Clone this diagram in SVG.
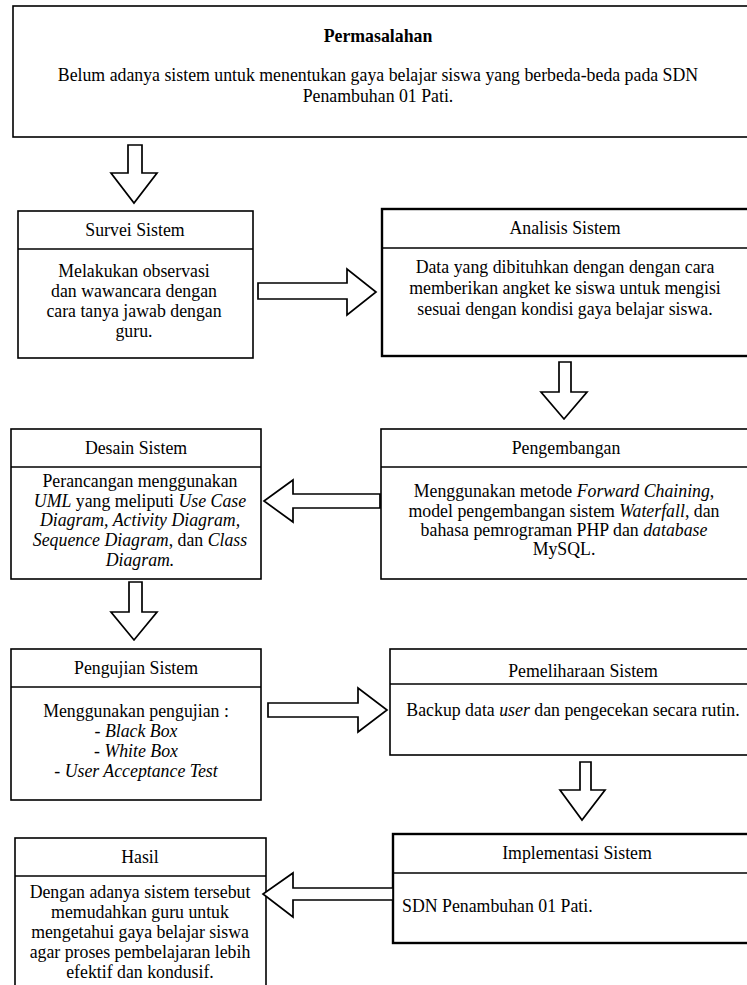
<svg xmlns="http://www.w3.org/2000/svg" width="747" height="985" viewBox="0 0 747 985">
<style>
.box{fill:#fff;stroke:#000;stroke-width:1.6}
.thick{stroke-width:2.4}
.div{stroke:#000;stroke-width:1.6;fill:none}
.arrow{fill:#fff;stroke:#000;stroke-width:1.7;stroke-linejoin:miter}
text{font-family:'Liberation Serif', 'DejaVu Serif', serif;font-size:17.8px;fill:#000}
.c{text-anchor:middle}
.b{font-weight:bold}
.i{font-style:italic}
</style>
<rect width="747" height="985" fill="#fff"/>
<g font-family="Liberation Serif, DejaVu Serif, serif">
<g id="permasalahan">
<rect class="box" x="13" y="6" width="740" height="131"/>
<text class="c b" x="378" y="42">Permasalahan</text>
<text class="c" x="378" y="81">Belum adanya sistem untuk menentukan gaya belajar siswa yang berbeda-beda pada SDN</text>
<text class="c" x="378" y="102">Penambuhan 01 Pati.</text>
</g>
<g id="survei">
<rect class="box" x="18" y="211" width="235" height="147"/>
<line class="div" x1="18" y1="249" x2="253" y2="249"/>
<text class="c" x="135" y="236">Survei Sistem</text>
<text class="c" x="134" y="277">Melakukan observasi</text>
<text class="c" x="134" y="297">dan wawancara dengan</text>
<text class="c" x="134" y="317">cara tanya jawab dengan</text>
<text class="c" x="134" y="337">guru.</text>
</g>
<g id="analisis">
<rect class="box thick" x="382" y="209" width="370" height="147"/>
<line class="div" x1="382" y1="248" x2="752" y2="248"/>
<text class="c" x="565" y="234">Analisis Sistem</text>
<text class="c" x="565" y="273">Data yang dibituhkan dengan dengan cara</text>
<text class="c" x="565" y="294">memberikan angket ke siswa untuk mengisi</text>
<text class="c" x="565" y="315">sesuai dengan kondisi gaya belajar siswa.</text>
</g>
<g id="desain">
<rect class="box" x="11" y="429" width="250" height="150"/>
<line class="div" x1="11" y1="467" x2="261" y2="467"/>
<text class="c" x="136" y="454">Desain Sistem</text>
<text class="c" x="140" y="487">Perancangan menggunakan</text>
<text class="c" x="140" y="507"><tspan class="i">UML</tspan> yang meliputi <tspan class="i">Use Case</tspan></text>
<text class="c i" x="140" y="526">Diagram, Activity Diagram,</text>
<text class="c" x="140" y="546"><tspan class="i">Sequence Diagram</tspan>, dan <tspan class="i">Class</tspan></text>
<text class="c i" x="140" y="566">Diagram.</text>
</g>
<g id="pengembangan">
<rect class="box" x="381" y="429" width="371" height="150"/>
<line class="div" x1="381" y1="467" x2="752" y2="467"/>
<text class="c" x="566" y="454">Pengembangan</text>
<text class="c" x="564" y="497">Menggunakan metode <tspan class="i">Forward Chaining</tspan>,</text>
<text class="c" x="564" y="517">model pengembangan sistem <tspan class="i">Waterfall</tspan>, dan</text>
<text class="c" x="564" y="536">bahasa pemrograman PHP dan <tspan class="i">database</tspan></text>
<text class="c" x="564" y="555">MySQL.</text>
</g>
<g id="pengujian">
<rect class="box" x="11" y="649" width="250" height="151"/>
<line class="div" x1="11" y1="687" x2="261" y2="687"/>
<text class="c" x="136" y="674">Pengujian Sistem</text>
<text class="c" x="136" y="717">Menggunakan pengujian :</text>
<text class="c" x="136" y="737">- <tspan class="i">Black Box</tspan></text>
<text class="c" x="136" y="757">- <tspan class="i">White Box</tspan></text>
<text class="c" x="136" y="777">- <tspan class="i">User Acceptance Test</tspan></text>
</g>
<g id="pemeliharaan">
<rect class="box" x="390" y="649" width="362" height="106"/>
<line class="div" x1="390" y1="684" x2="752" y2="684"/>
<text class="c" x="583" y="677">Pemeliharaan Sistem</text>
<text class="c" x="573" y="716">Backup data <tspan class="i">user</tspan> dan pengecekan secara rutin.</text>
</g>
<g id="implementasi">
<rect class="box thick" x="393" y="834" width="359" height="109"/>
<line class="div" x1="393" y1="873" x2="752" y2="873"/>
<text class="c" x="577" y="859">Implementasi Sistem</text>
<text x="402" y="912">SDN Penambuhan 01 Pati.</text>
</g>
<g id="hasil">
<rect class="box" x="15" y="838" width="251" height="160"/>
<line class="div" x1="15" y1="876" x2="266" y2="876"/>
<text class="c" x="140" y="863">Hasil</text>
<text class="c" x="140" y="898">Dengan adanya sistem tersebut</text>
<text class="c" x="140" y="918">memudahkan guru untuk</text>
<text class="c" x="140" y="938">mengetahui gaya belajar siswa</text>
<text class="c" x="140" y="958">agar proses pembelajaran lebih</text>
<text class="c" x="140" y="978">efektif dan kondusif.</text>
</g>
</g>
<g id="connectors">
<polygon class="arrow" points="128,145 142,145 142,173 157,173 134,203 111,173 128,173"/>
<polygon class="arrow" points="258,283 347,283 347,269 376,292 347,315 347,299 258,299"/>
<polygon class="arrow" points="559,362 571,362 571,392 587,392 564,419 541,392 559,392"/>
<polygon class="arrow" points="380,494 293,494 293,480 264,501 293,522 293,508 380,508"/>
<polygon class="arrow" points="129,582 142,582 142,612 157,612 134,640 111,612 129,612"/>
<polygon class="arrow" points="268,703 358,703 358,688 387,710 358,732 358,717 268,717"/>
<polygon class="arrow" points="580,762 591,762 591,790 605,790 582,820 560,790 580,790"/>
<polygon class="arrow" points="393,888 293,888 293,873 263,894 293,917 293,900 393,900"/>
</g>
</svg>
